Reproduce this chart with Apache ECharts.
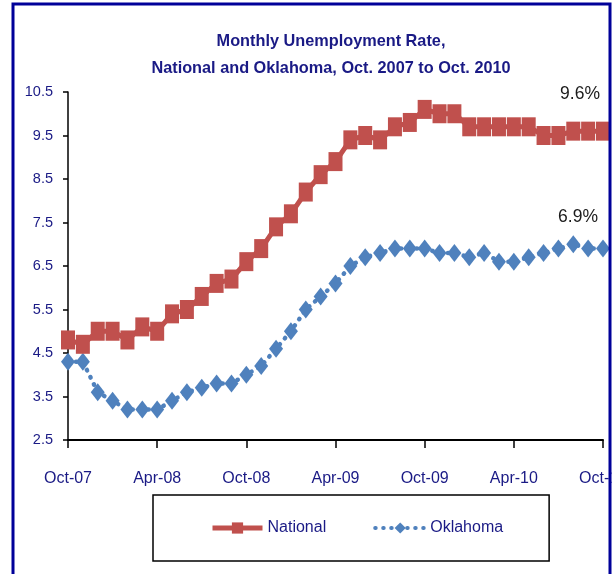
<!DOCTYPE html>
<html>
<head>
<meta charset="utf-8">
<script src="https://cdn.jsdelivr.net/npm/echarts@6/dist/echarts.min.js"></script>
<style>
  body { margin: 0; background: #fff; }
  #chart_view { width: 615px; height: 574px; }
</style>
</head>
<body>
<div id="chart_view"></div>
<script type="text/javascript">
  var months = ['Oct-07','Nov-07','Dec-07','Jan-08','Feb-08','Mar-08','Apr-08','May-08','Jun-08','Jul-08','Aug-08','Sep-08',
                'Oct-08','Nov-08','Dec-08','Jan-09','Feb-09','Mar-09','Apr-09','May-09','Jun-09','Jul-09','Aug-09','Sep-09',
                'Oct-09','Nov-09','Dec-09','Jan-10','Feb-10','Mar-10','Apr-10','May-10','Jun-10','Jul-10','Aug-10','Sep-10','Oct-10'];
  var national = [4.8, 4.7, 5.0, 5.0, 4.8, 5.1, 5.0, 5.4, 5.5, 5.8, 6.1, 6.2,
                  6.6, 6.9, 7.4, 7.7, 8.2, 8.6, 8.9, 9.4, 9.5, 9.4, 9.7, 9.8,
                  10.1, 10.0, 10.0, 9.7, 9.7, 9.7, 9.7, 9.7, 9.5, 9.5, 9.6, 9.6, 9.6];
  var oklahoma = [4.3, 4.3, 3.6, 3.4, 3.2, 3.2, 3.2, 3.4, 3.6, 3.7, 3.8, 3.8,
                  4.0, 4.2, 4.6, 5.0, 5.5, 5.8, 6.1, 6.5, 6.7, 6.8, 6.9, 6.9,
                  6.9, 6.8, 6.8, 6.7, 6.8, 6.6, 6.6, 6.7, 6.8, 6.9, 7.0, 6.9, 6.9];

  var navy = '#1a1a85';
  var font = "'Liberation Sans', Arial, sans-serif";

  // last point gets the "x.x%" label
  function withEndLabel(arr, offset) {
    var data = arr.slice(0, arr.length - 1);
    data.push({
      value: arr[arr.length - 1],
      label: {
        show: true, position: 'inside', offset: offset,
        formatter: '{c}%', color: '#1a1a1a', fontSize: 17.5, fontFamily: font
      }
    });
    return data;
  }

  var myChart = echarts.init(document.getElementById('chart_view'));
  var option = {
    animation: false,
    title: {
      text: 'Monthly Unemployment Rate,\nNational and Oklahoma, Oct. 2007 to Oct. 2010',
      left: 331,
      top: 28,
      padding: 0,
      textAlign: 'center',
      textStyle: { color: navy, fontSize: 16.3, fontWeight: 'bold', fontFamily: font, lineHeight: 27 }
    },
    legend: {
      left: 153,
      top: 495,
      padding: [25, 46, 25, 57],
      itemGap: 47,
      itemWidth: 50,
      itemHeight: 14,
      borderColor: '#000',
      borderWidth: 1.5,
      textStyle: { color: navy, fontSize: 16, fontFamily: font },
      data: [
        { name: 'National', lineStyle: { width: 5 } },
        { name: 'Oklahoma', lineStyle: { width: 4 } }
      ]
    },
    grid: { left: 68, right: 12, top: 92, bottom: 134, outerBoundsMode: 'none' },
    xAxis: {
      type: 'category',
      boundaryGap: false,
      data: months,
      axisLine: { lineStyle: { color: '#000', width: 2 } },
      axisTick: { interval: 5, length: 8, lineStyle: { color: '#000', width: 1.5 } },
      axisLabel: { interval: 5, margin: 31, color: navy, fontSize: 16, fontFamily: font }
    },
    yAxis: {
      type: 'value',
      min: 2.5,
      max: 10.5,
      interval: 1,
      splitLine: { show: false },
      axisLine: { show: true, lineStyle: { color: '#000', width: 1.5 } },
      axisTick: { show: true, length: 5, lineStyle: { color: '#000', width: 1.5 } },
      axisLabel: { margin: 15, color: navy, fontSize: 14.5, fontFamily: font, formatter: function (v) { return v.toFixed(1); } }
    },
    series: [
      {
        name: 'National',
        type: 'line',
        data: withEndLabel(national, [-23, -37]),
        symbol: 'rect',
        symbolSize: [14, 19],
        showAllSymbol: true,
        itemStyle: { color: '#c0504d' },
        lineStyle: { color: '#c0504d', width: 5 },
        z: 3
      },
      {
        name: 'Oklahoma',
        type: 'line',
        data: withEndLabel(oklahoma, [-25, -31]),
        symbol: 'diamond',
        symbolSize: [14, 18],
        showAllSymbol: true,
        itemStyle: { color: '#4f81bd' },
        lineStyle: { color: '#4f81bd', width: 4.5, type: [0.5, 7.5], cap: 'round' },
        z: 2
      }
    ],
    graphic: [
      { type: 'rect', z: 99, shape: { x: 611.5, y: 0, width: 10, height: 574 }, style: { fill: '#fff' } },
      { type: 'rect', z: 100, shape: { x: 13, y: 4, width: 597, height: 620 }, style: { fill: 'none', stroke: '#000099', lineWidth: 3 } }
    ]
  };
  myChart.setOption(option);
</script>
</body>
</html>
